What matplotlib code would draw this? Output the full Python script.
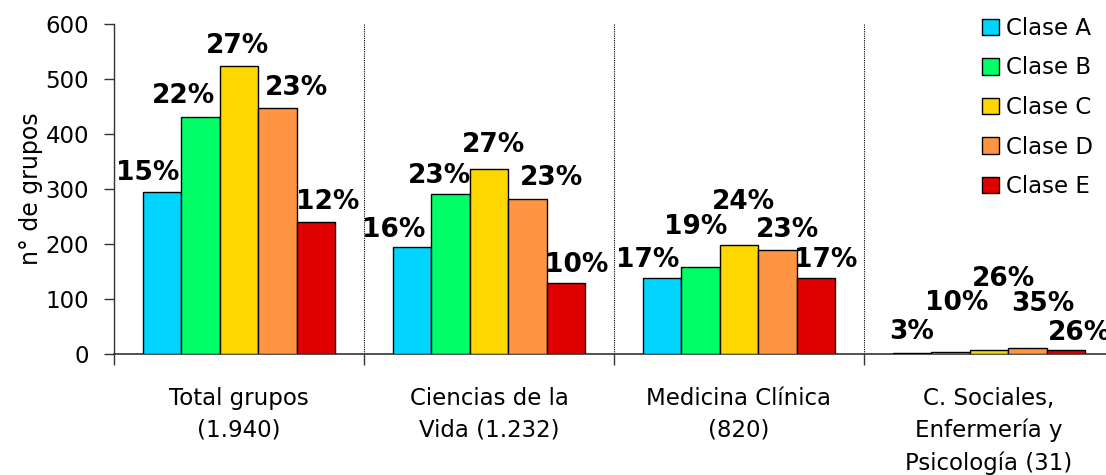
import matplotlib
matplotlib.use("Agg")
import matplotlib.pyplot as plt
from matplotlib.patches import Patch
import numpy as np

categories = ["Total grupos\n(1.940)", "Ciencias de la\nVida (1.232)",
              "Medicina Clínica\n(820)", "C. Sociales,\nEnfermería y\nPsicología (31)"]
series_names = ["Clase A", "Clase B", "Clase C", "Clase D", "Clase E"]
clase_a = [295, 195, 138, 1]
clase_b = [431, 291, 158, 3]
clase_c = [524, 336, 198, 8]
clase_d = [447, 282, 189, 11]
clase_e = [240, 129, 138, 8]
pct_a = ["15%", "16%", "17%", "3%"]
pct_b = ["22%", "23%", "19%", "10%"]
pct_c = ["27%", "27%", "24%", "26%"]
pct_d = ["23%", "23%", "23%", "35%"]
pct_e = ["12%", "10%", "17%", "26%"]
yticks = [0, 100, 200, 300, 400, 500, 600]

values = [clase_a, clase_b, clase_c, clase_d, clase_e]
pcts = [pct_a, pct_b, pct_c, pct_d, pct_e]
colors = ["#00D4FF", "#00FF66", "#FFD700", "#FF9442", "#E00000"]

# label offsets in pixels (dx, dy) per group, per class
label_offsets = [
    [(-14, 19), (-17, 21), (-1, 20), (19, 20), (12, 20)],
    [(-18, 17), (-11, 18), (4, 24), (24, 21), (11, 18)],
    [(-14, 18), (-5, 40), (4, 43), (10, 20), (10, 18)],
    [(0, 21), (6, 49), (15, 71), (15, 44), (13, 17)],
]

fig = plt.figure(figsize=(11.06, 4.75), dpi=100)
ax = fig.add_axes([114 / 1106, 121 / 475, 992 / 1106, 330 / 475])

x = np.arange(len(categories))
w = 0.154
for i, (vals, col) in enumerate(zip(values, colors)):
    xs = x + (i - 2) * w
    ax.bar(xs, vals, width=w, color=col, edgecolor="black", linewidth=1.0,
           zorder=3)
    for g, (xx, v) in enumerate(zip(xs, vals)):
        dx, dy = label_offsets[g][i]
        ax.annotate(pcts[i][g], xy=(xx, v), xytext=(dx, dy),
                    textcoords="offset pixels", ha="center", va="center",
                    fontsize=19, fontweight="bold", color="black",
                    annotation_clip=False, zorder=5)

ax.set_xlim(-0.5, -0.5 + 992 / 250)
ax.set_ylim(0, 600)
ax.set_yticks(yticks)
ax.tick_params(axis="y", direction="out", length=7, width=1.0,
               labelsize=16.5, pad=11, color="#333333")

ax.set_xticks([-0.5, 0.5, 1.5, 2.5])
ax.set_xticklabels([])
ax.set_xticks(x, minor=True)
ax.set_xticklabels(categories, minor=True, fontsize=16.5, linespacing=1.5)
ax.tick_params(axis="x", which="major", direction="out", length=8,
               width=1.0, color="#333333")
ax.tick_params(axis="x", which="minor", length=0, pad=23.5)
ax.xaxis.grid(True, which="major", linestyle=(0, (1, 1)), color="black",
              linewidth=0.8)

for s in ["top", "right"]:
    ax.spines[s].set_visible(False)
ax.spines["left"].set_color("#333333")
ax.spines["bottom"].set_color("#333333")
ax.spines["left"].set_linewidth(1.0)
ax.spines["bottom"].set_linewidth(1.2)

ax.set_ylabel("n° de grupos", fontsize=17, labelpad=2)

handles = [Patch(facecolor=c, edgecolor="black", linewidth=1.0) for c in colors]
fig.legend(handles, series_names, loc="upper left",
           bbox_to_anchor=(982 / 1106, 1 - 17 / 475), frameon=False,
           fontsize=16.5, handlelength=0.75, handleheight=0.75,
           handletextpad=0.3, labelspacing=0.72, borderpad=0,
           borderaxespad=0)

fig.savefig("out.png", dpi=100)
